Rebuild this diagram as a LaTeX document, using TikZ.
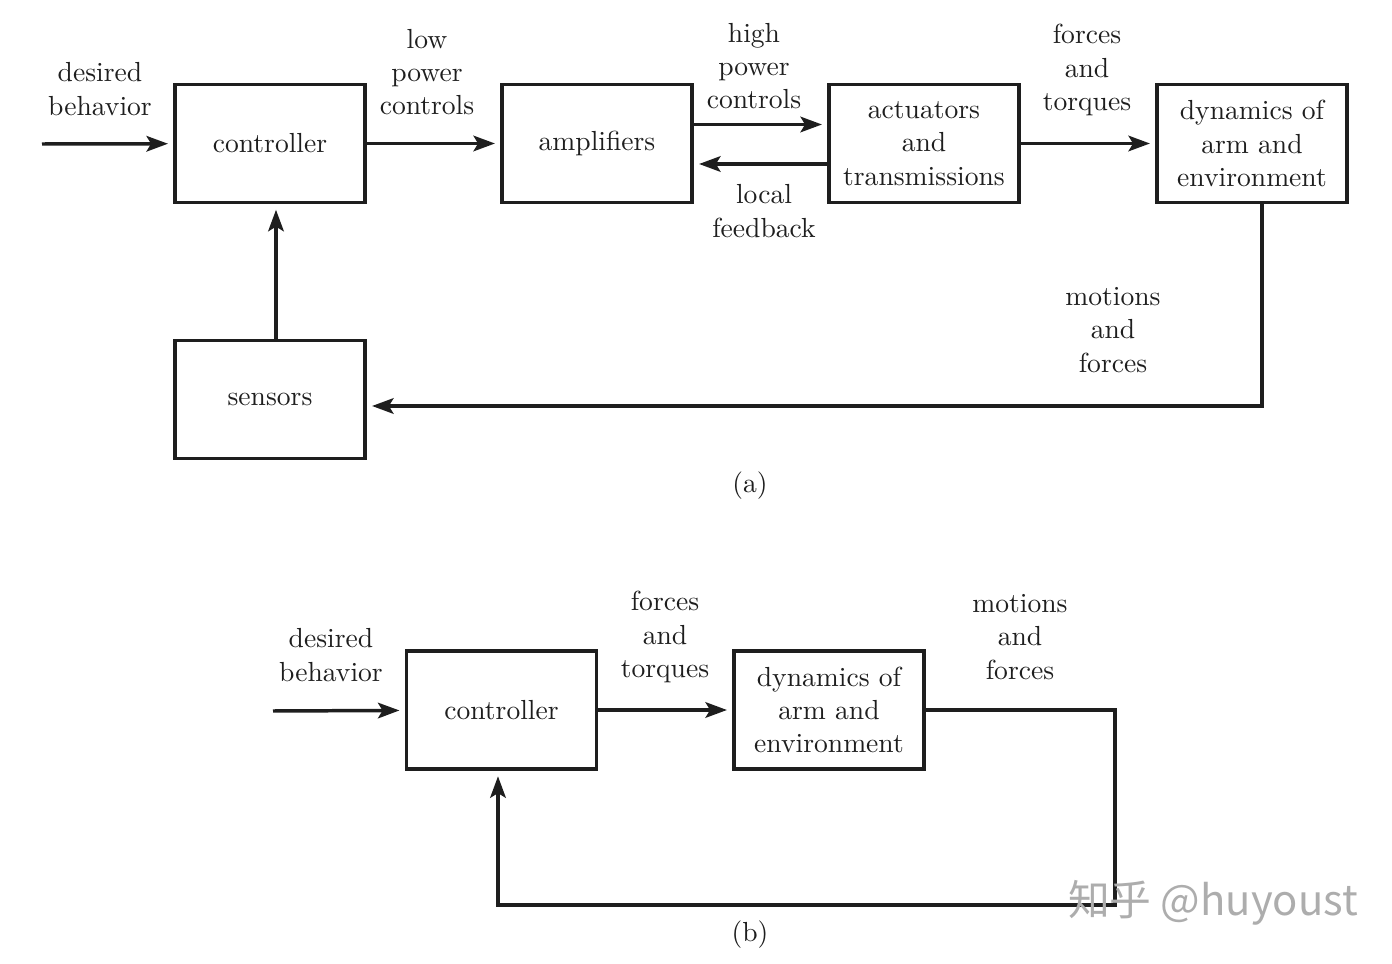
\documentclass[tikz,border=0pt]{standalone}
\usepackage{fontspec}
\usepackage{tikz}
\usetikzlibrary{arrows.meta,positioning,calc}
\newfontfamily\cjkfont{Noto Sans CJK SC}
\definecolor{inkgray}{RGB}{30,30,30}

\begin{document}
\begin{tikzpicture}[x=0.01312cm, y=-0.01312cm,
  box/.style={rectangle, draw=inkgray, line width=1.3pt, text=inkgray,
    minimum width=70.9pt, minimum height=44.2pt, align=center, inner sep=0pt,
    font=\fontsize{10.3}{12.4}\selectfont},
  lbl/.style={align=center, inner sep=0pt, text=inkgray,
    font=\fontsize{10.3}{12.4}\selectfont},
  arr/.style={-{Stealth[length=8pt, width=5.8pt, inset=1.7pt]}, inkgray,
    line width=1.3pt, shorten >=2pt}]
\useasboundingbox (0,0) rectangle (1392,964);
% (a) arm with local feedback
\node[box] (ctrl) at (270,143.5) {controller};
\node[box] (amp) at (597,143.5) {amplifiers};
\node[box] (act) at (924,143.5) {actuators\\and\\transmissions};
\node[box] (dyn) at (1252,143.5) {dynamics of\\arm and\\environment};
\node[box] (sens) at (270,399.5) {sensors};
\coordinate (in) at (42,144);
\coordinate (turn) at (1262,406);
\draw[arr] (in) -- (ctrl);
\draw[arr] (ctrl) -- (amp);
\draw[arr] ($(amp.east)+(0,-19)$) -- ($(act.west)+(0,-19)$);
\draw[arr] ($(act.west)+(0,20.5)$) -- ($(amp.east)+(0,20.5)$);
\draw[arr] (act) -- (dyn);
\draw[arr] (dyn.south -| turn) -- (turn) -- (sens.east |- turn);
\draw[arr] ($(sens.north)+(6,0)$) -- ($(ctrl.south)+(6,0)$);
\node[lbl] (desa) at (100,89) {desired\\behavior};
\node[lbl] (low) at (427,72) {low\\power\\controls};
\node[lbl] (high) at (754,66) {high\\power\\controls};
\node[lbl] (loc) at (764,211) {local\\feedback};
\node[lbl] (ftq) at (1087,70) {forces\\and\\torques};
\node[lbl] (mfa) at (1113,330) {motions\\and\\forces};
\node[lbl] (capa) at (750,486) {(a)};
% (b) direct control
\node[box] (ctrlb) at (501.5,710) {controller};
\node[box] (dynb) at (829,710) {dynamics of\\arm and\\environment};
\coordinate (inb) at (273,711);
\coordinate (cornb) at (1115,905);
\draw[arr] (inb) -- (ctrlb);
\draw[arr] (ctrlb) -- (dynb);
\draw[arr] (dynb.east) -- (dynb.east -| cornb) -- (cornb)
  -- ($(ctrlb.south |- cornb)+(-3.5,0)$) -- ($(ctrlb.south)+(-3.5,0)$);
\node[lbl] (desb) at (331,655) {desired\\behavior};
\node[lbl] (ftqb) at (665,637) {forces\\and\\torques};
\node[lbl] (mfb) at (1020,637) {motions\\and\\forces};
\node[lbl] (capb) at (750,935) {(b)};
\node[text=black!32, inner sep=0pt, font=\cjkfont\fontsize{15.6}{18}\selectfont] (wm) at (1213,903) {知乎 @huyoust};
\end{tikzpicture}
\end{document}
